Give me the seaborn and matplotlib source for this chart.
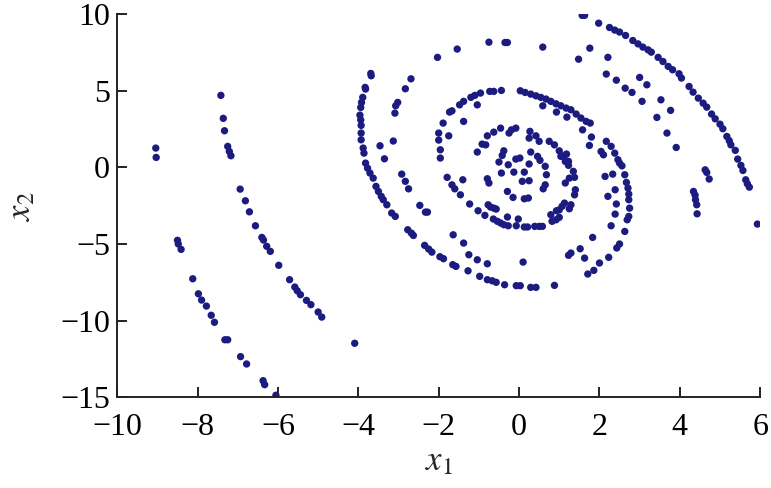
import numpy as np
import pandas as pd
import matplotlib
matplotlib.use("Agg")
import matplotlib.pyplot as plt
import seaborn as sns

# Values
x1 = [
    -9.04, -9.03, -8.50, -8.48, -8.41, -8.12, -7.98, -7.90, -7.78, -7.66, -7.58, -7.32, -7.25,
    -6.93, -6.78, -6.37, -6.33, -6.05,
    -7.42, -7.36, -7.33, -7.25, -7.21, -7.17, -6.94, -6.81, -6.71, -6.56, -6.40, -6.36, -6.28,
    -6.19, -5.98, -5.71, -5.58, -5.52, -5.44, -5.29, -5.18, -5.00, -4.91, -4.09,
    -3.69, -3.68, -3.83, -3.82, -3.89, -3.92, -3.94, -3.96, -3.94, -3.93, -3.93, -3.93, -3.88,
    -3.86, -3.82, -3.77, -3.71, -3.63, -3.56, -3.50, -3.43, -3.38, -3.29, -3.17, -3.08, -2.77,
    -2.68, -2.63, -2.35, -2.25, -2.17, -1.97, -1.88, -1.65, -1.57, -1.27, -0.98, -0.79, -0.67,
    -0.57, -0.36, -0.07, 0.03, 0.29, 0.42, 0.88, 1.71, 1.86, 2.00, 2.23, 2.43, 2.50, 2.63,
    2.69, 2.73, 2.75, 2.73, 2.73, 2.71, 2.67, 2.63, 2.56, 2.50, 2.46, 2.38, 2.29, 2.17, 2.10,
    2.04, 1.80, 1.75,
    -1.73, -1.67, -1.89, -1.48, -1.38, -1.20, -1.10, -0.96, -0.73, -0.63, -0.44, 0.03, 0.15,
    0.29, 0.42, 0.54, 0.67, 0.79, 0.92, 1.04, 1.17, 1.29, 1.42, 1.54, 1.67, 1.77, 1.58, -2.00,
    -1.75, -1.04, 0.59, 0.93, 1.19, -1.38,
    -2.00, -1.96, -1.96, -1.79, -1.67, -1.60, -1.46, -1.23, -1.02, -0.85, -0.64, -0.54, -0.46,
    -0.38, -0.27, -0.07, 0.13, 0.21, 0.39, 0.50, 0.58, 0.82, 0.92, 1.00, 0.79, 0.93, 1.00, 1.07,
    1.13, 1.25, 1.29, 1.38, 1.40, 1.15, 1.25, 1.38, 1.35, 1.23, 1.23, 1.15, 1.18, 1.13, 1.04,
    1.00, 0.88, 0.75, 0.50, 0.25, 0.42, 0.27, -0.08, -0.19, -0.25, -0.46, -0.63, -0.79, -0.92,
    -0.83, -1.04, -0.38, -0.42, -0.50, -0.27, -0.08, 0.02, 0.25, 0.29, 0.46, 0.52, 0.65, -0.44,
    -0.13, 0.13, 0.08, 0.25, 0.68, 0.65, 0.60, -0.29, -0.15, 0.13, 0.23, -0.79, -0.75, -1.40,
    -0.77, -0.71, -0.63, -0.57, -0.29, -0.02,
    -1.64, -1.38, -1.25, -1.04, -0.79, 0.10, 1.83, 1.52, 1.29, 1.23, 1.63,
    2.14, 2.33, 2.39, 2.21, 2.42, 2.39, 2.29,
    -1.54, -0.75, -0.35, -0.29, 0.59, 1.57, 1.63, 1.98, 1.76, 1.48, -2.03, -2.69, -2.83, -3.02,
    -3.07, -3.09, -3.13, -3.46, -3.35, -2.92, -2.83, -2.75, -2.47, -2.33, -2.28,
    2.25, 2.38, 2.50, 2.65, 2.83, 2.96, 3.08, 3.21, 3.29, 3.46, 3.58, 3.71, 3.82, 3.98, 4.04,
    4.23, 4.33, 4.46, 4.58, 4.67, 4.79, 4.88, 5.00, 5.07, 5.17, 5.23, 5.27, 5.38, 5.44, 5.52,
    5.57, 5.64, 5.68, 5.73, 5.93,
    2.21, 2.17, 2.42, 2.64, 2.81, 3.00, 3.18, 3.06, 3.53, 3.77, 3.43, 3.68, 3.91, 4.63, 4.67,
    4.73, 4.34, 4.39, 4.42, 4.43, 4.38,
]
x2 = [
    1.26, 0.65, -4.76, -5.00, -5.35, -7.27, -8.25, -8.66, -9.05, -9.65, -10.11, -11.25, -11.25,
    -12.35, -12.83, -13.92, -14.18, -14.87,
    4.70, 3.20, 2.39, 1.37, 1.04, 0.76, -1.42, -2.18, -2.90, -3.81, -4.57, -4.74, -5.15,
    -5.48, -6.39, -7.33, -7.81, -8.05, -8.31, -8.68, -8.96, -9.44, -9.77, -11.48,
    6.13, 5.98, 5.22, 5.11, 4.57, 4.24, 3.91, 3.41, 3.10, 2.74, 2.24, 1.80, 1.26,
    0.93, 0.28, -0.05, -0.37, -0.70, -1.24, -1.57, -1.89, -2.11, -2.44, -2.98, -3.20, -4.07,
    -4.29, -4.44, -5.09, -5.33, -5.53, -5.83, -5.96, -6.35, -6.46, -6.75, -7.11, -7.33, -7.40,
    -7.50, -7.66, -7.72, -7.72, -7.83, -7.83, -7.70, -6.96, -6.72, -6.24, -5.87, -5.26, -5.00, -4.18,
    -3.42, -3.20, -2.66, -2.11, -1.74, -1.35, -0.98, -0.48, 0.10, 0.28, 0.50, 0.93, 1.37, 1.70, 0.82,
    1.04, 1.98, 1.43,
    3.61, 3.69, 2.89, 4.08, 4.31, 4.57, 4.70, 4.85, 4.96, 4.96, 5.02, 5.00, 4.89,
    4.78, 4.67, 4.57, 4.46, 4.31, 4.15, 4.02, 3.87, 3.76, 3.48, 3.22, 3.00, 2.89, 2.45, 2.24,
    2.06, 4.08, 4.02, 3.61, 3.28, 3.00,
    1.78, 1.15, 0.61, -0.65, -1.14, -1.40, -1.79, -2.39, -2.83, -3.13, -3.37, -3.52, -3.63,
    -3.74, -3.81, -3.81, -3.89, -3.89, -3.85, -3.85, -3.85, -3.52, -3.42, -3.26, -3.09, -2.83, -2.77, -2.54,
    -2.33, -2.70, -2.44, -1.79, -1.46, -1.02, -0.70, -0.65, -0.26, 0.13, 0.39, 0.39, 0.87, 0.78, 0.72,
    1.08, 1.47, 1.70, 1.70, 1.91, 2.06, 2.35, 2.56, 2.45, 2.24, 2.56, 2.30, 2.06, 1.52,
    1.47, 1.00, 1.08, 0.78, 0.35, 0.17, 0.54, 0.61, 0.22, 1.00, 0.72, 0.46, 0.07, -0.37,
    -0.31, -0.31, -0.91, -0.87, -0.48, -1.14, -1.40, -1.57, -1.96, -2.05, -2.00, -0.74, -1.02, -0.81,
    -2.44, -2.59, -2.66, -2.72, -3.24, -3.37,
    -4.40, -4.94, -5.70, -6.03, -6.29, -6.18, -4.57, -5.31, -5.59, -5.74, -5.92,
    -0.59, -0.44, -1.46, -1.89, -2.39, -3.05, -3.81,
    7.72, 8.17, 8.15, 8.15, 7.85, 9.92, 9.92, 9.41, 7.78, 7.06, 7.18, 5.78, 5.13, 4.24,
    4.02, 3.54, 1.72, 1.41, 0.56, -0.44, -0.91, -1.40, -2.48, -2.92, -2.92,
    9.13, 8.96, 8.83, 8.61, 8.28, 8.06, 7.85, 7.67, 7.52, 7.18, 6.91, 6.59, 6.37, 6.11, 5.83,
    5.28, 4.91, 4.52, 4.19, 3.93, 3.48, 3.17, 2.82, 2.52, 2.02, 1.74, 1.47, 1.11, 0.54, 0.13,
    -0.20, -0.81, -1.07, -1.29, -3.70,
    7.18, 6.09, 5.69, 5.17, 4.89, 5.87, 5.39, 4.31, 4.41, 3.72, 3.26, 2.24, 1.30, -0.16, -0.33,
    -0.76, -1.57, -2.11, -2.44, -3.03, -1.81,
]
x_ticks = [-10, -8, -6, -4, -2, 0, 2, 4, 6]
y_ticks = [-15, -10, -5, 0, 5, 10]

df = pd.DataFrame({"x1": x1, "x2": x2})

sns.set_style("ticks")
plt.rcParams["font.family"] = ["Liberation Serif", "DejaVu Serif"]
plt.rcParams["mathtext.fontset"] = "stix"

fig = plt.figure(figsize=(7.71, 4.88), dpi=100)
ax = fig.add_axes([0.152, 0.186, 0.834, 0.785])

sns.scatterplot(data=df, x="x1", y="x2", ax=ax, color="#1b1b80",
                s=28, edgecolor="none", linewidth=0)

ax.set_xlim(-10, 6)
ax.set_ylim(-15, 10)
ax.set_xticks(x_ticks)
ax.set_yticks(y_ticks)
ax.set_xticklabels([f"{t:d}".replace("-", "\u2212") for t in x_ticks])
ax.set_yticklabels([f"{t:d}".replace("-", "\u2212") for t in y_ticks])
ax.tick_params(direction="in", length=7, width=1.4, labelsize=23, colors="#222222",
               labelcolor="black")
ax.tick_params(axis="x", pad=11)
ax.tick_params(axis="y", pad=5)
for side in ["top", "right"]:
    ax.spines[side].set_visible(False)
for side in ["left", "bottom"]:
    ax.spines[side].set_linewidth(1.4)
    ax.spines[side].set_color("#222222")

ax.set_xlabel(r"$x_1$", fontsize=25, labelpad=3)
ax.set_ylabel(r"$x_2$", fontsize=25, labelpad=16)

fig.savefig("out.png", dpi=100)
